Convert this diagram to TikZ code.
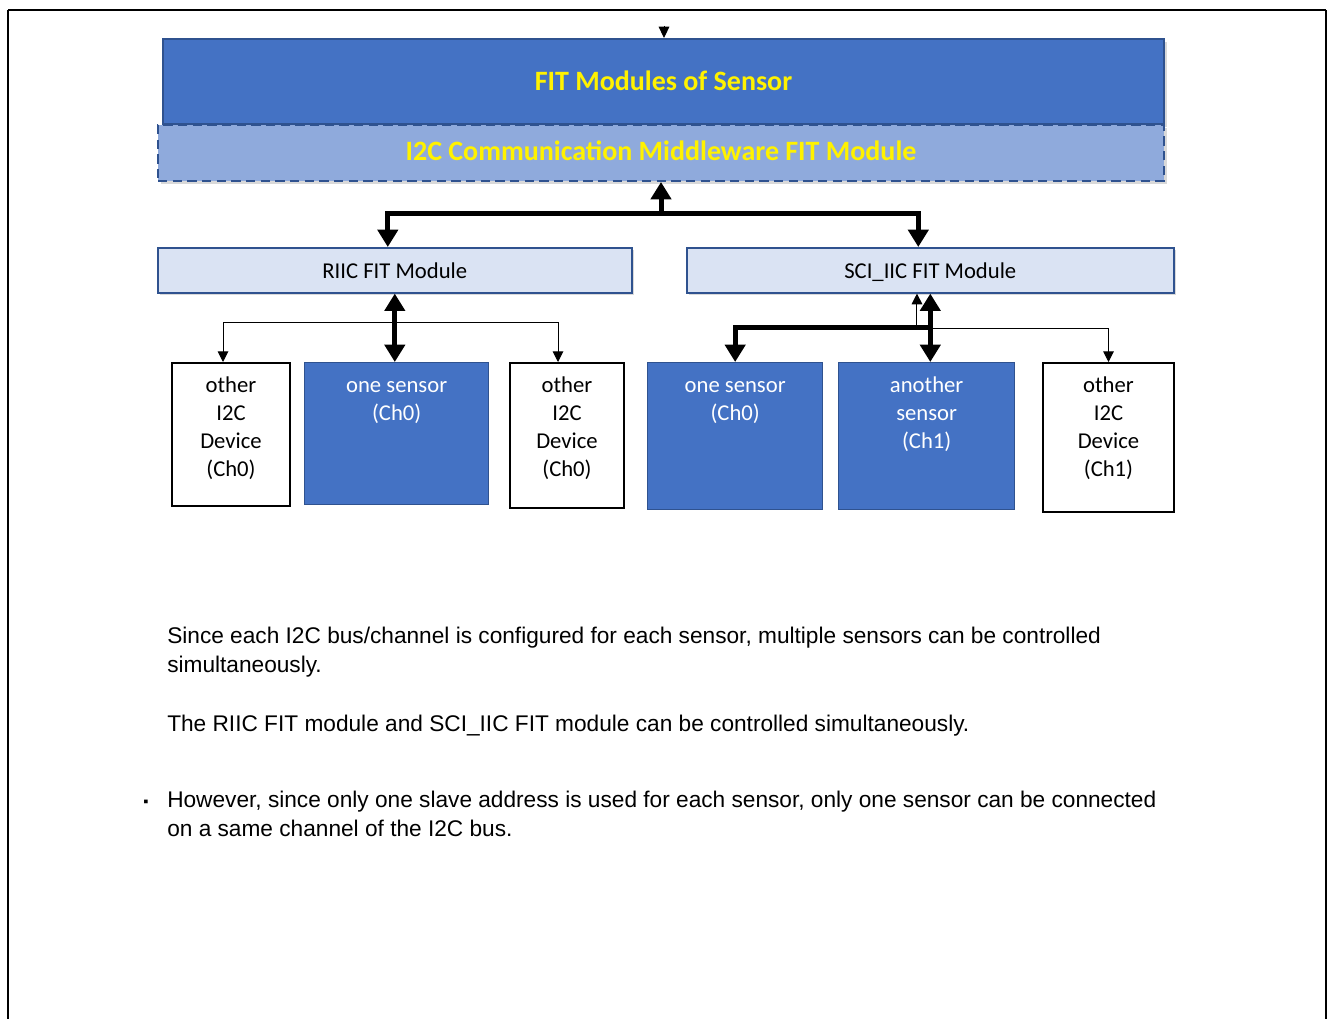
\documentclass[tikz,border=0pt]{standalone}
\usepackage{fontspec}
\setmainfont{Carlito}
\newfontfamily\notefont{Liberation Sans}
\usetikzlibrary{arrows.meta,shadows}
\definecolor{fitblue}{HTML}{4472C4}
\definecolor{edgeblue}{HTML}{2F528F}
\definecolor{midblue}{HTML}{8FAADC}
\definecolor{paleblue}{HTML}{DAE3F3}
\tikzstyle{layerbox} = [draw=edgeblue, line width=1.5pt, rectangle, anchor=north west, inner sep=0pt, drop shadow={shadow xshift=2pt, shadow yshift=-2pt, opacity=0.3}]
\tikzstyle{modbox} = [layerbox, fill=paleblue, line width=1.2pt, minimum height=33.75pt, text depth=0pt]
\tikzstyle{sensorbox} = [draw=edgeblue, fill=fitblue, line width=1pt, rectangle, anchor=north west, inner sep=0pt]
\tikzstyle{devbox} = [draw=black, fill=white, line width=1.5pt, rectangle, anchor=north west, inner sep=0pt]
\tikzstyle{devlabel} = [anchor=north, yshift=-5pt, align=center, font=\fontsize{17}{21}\selectfont]
\tikzstyle{bus} = [line width=3.75pt, >={Triangle[width=15pt,length=13pt]}]
\tikzstyle{wire} = [line width=0.75pt, >={Triangle[width=8pt,length=8pt]}]
\tikzstyle{note} = [anchor=base west, inner sep=0pt, align=left, font=\notefont\fontsize{17}{21.75}\selectfont]
\newcommand{\titletxt}[1]{\textcolor{yellow}{\bfseries\fontsize{21}{25}\selectfont #1}}
\newcommand{\modtxt}[1]{\fontsize{17}{21}\selectfont #1}

\begin{document}
\begin{tikzpicture}[x=0.75pt, y=-0.75pt]
\useasboundingbox (0,0) rectangle (1328,1019);
% page frame
\draw[line width=1pt] (8,1019) -- (8,10);
\draw[line width=1pt] (1326,10) -- (1326,1019);
\draw[line width=1.8pt] (8,10) -- (1326,10);

% layers
\node[layerbox, fill=fitblue, minimum width=750.75pt, minimum height=63.75pt] (sensorfit) at (162,38) {\raisebox{1.5pt}{\titletxt{FIT Modules of Sensor}}};
\node[layerbox, fill=midblue, dash pattern=on 7pt off 4pt, minimum width=754.5pt, minimum height=42pt] (middleware) at (157,124) {\raisebox{3.5pt}{\titletxt{I2C Communication Middleware FIT Module}}};
\node[modbox, minimum width=355.5pt] (riic) at (157,247) {\modtxt{RIIC FIT Module}};
\node[modbox, minimum width=365.25pt] (sci) at (686,247) {\modtxt{SCI\_IIC FIT Module}};

% devices
\node[devbox, minimum width=88.5pt, minimum height=107.25pt, label={[devlabel]north:\strut other\\I2C\\Device\\(Ch0)}] (otherA) at (171,362) {};
\node[sensorbox, minimum width=138pt, minimum height=106.5pt, label={[devlabel, text=white]north:\strut one sensor\\(Ch0)}] (sensorA) at (304,362) {};
\node[devbox, minimum width=85.5pt, minimum height=108.75pt, label={[devlabel]north:\strut other\\I2C\\Device\\(Ch0)}] (otherB) at (509,362) {};
\node[sensorbox, minimum width=131.25pt, minimum height=110.25pt, label={[devlabel, text=white]north:\strut one sensor\\(Ch0)}] (sensorB) at (647,362) {};
\node[sensorbox, minimum width=132pt, minimum height=110.25pt, label={[devlabel, text=white]north:\strut another\\sensor\\(Ch1)}] (sensorC) at (838,362) {};
\node[devbox, minimum width=98.25pt, minimum height=111.75pt, label={[devlabel]north:\strut other\\I2C\\Device\\(Ch1)}] (otherC) at (1042,362) {};

% connectors
\coordinate (toparrow) at (664,26);
\draw[wire, -{Triangle[width=8pt,length=8.5pt]}] (toparrow) -- (toparrow |- sensorfit.north);
\path (middleware.south) ++(0,32) coordinate (split);
\draw[bus,<-] (middleware.south) -- (split);
\draw[bus,->] (split) -| ([xshift=-5.25pt]riic.north);
\draw[bus,->] (split) -| ([xshift=-9pt]sci.north);

\draw[bus,<->] (riic.south) -- (riic.south |- sensorA.north);
\path (riic.south) ++(0,29) coordinate (riictap);
\draw[wire,<->] ([xshift=-6pt]otherA.north) |- (riictap) -| ([xshift=-6.75pt]otherB.north);

\draw[bus,<->] (sci.south) -- (sci.south |- sensorC.north);
\path (sci.south) ++(0,34) coordinate (scitap);
\draw[bus,->] (scitap) -| (sensorB.north);
\draw[wire,<->] ([xshift=-10pt]sci.south) -- ++(0,35) -| (otherC.north);

% notes
\node[note] (note1) at (167,672) {Since each I2C bus/channel is configured for each sensor, multiple sensors can be controlled\\simultaneously.};
\node[note] (note2) at (167,731) {The RIIC FIT module and SCI\_IIC FIT module can be controlled simultaneously.};
\node[note, anchor=base] (bullet) at (146,806) {\fontsize{11}{12}\selectfont ▪};
\node[note] (note3) at (167,836) {However, since only one slave address is used for each sensor, only one sensor can be connected\\on a same channel of the I2C bus.};
\end{tikzpicture}
\end{document}
